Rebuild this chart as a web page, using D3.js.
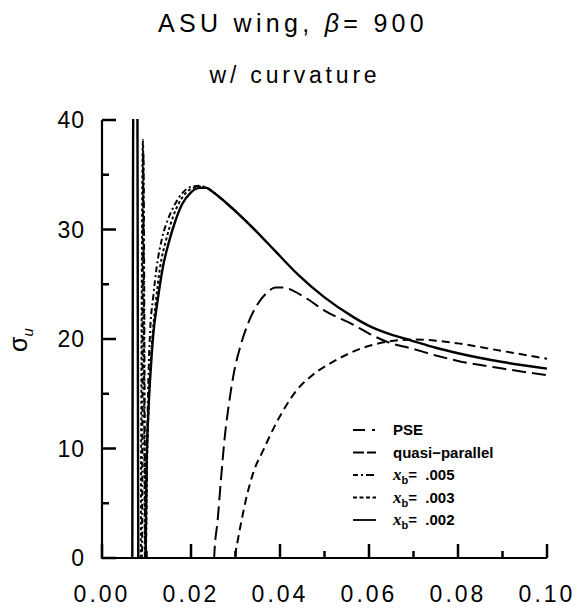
<!DOCTYPE html>
<html>
<head>
<meta charset="utf-8">
<script src="https://cdn.jsdelivr.net/npm/d3@7"></script>
<style>
    body { margin: 0; background: #fff; }
    svg { font-family: "Liberation Sans", Arial, sans-serif; }
</style>
</head>
<body>
<div id="chart"></div>
<script>

// axis ticks
const x_ticks = [0, 0.02, 0.04, 0.06, 0.08, 0.10];
const x_minor = [0.01, 0.03, 0.05, 0.07, 0.09];
const y_ticks = [0, 10, 20, 30, 40];
const y_minor = [5, 15, 25, 35];

// series, [x, sigma_u] (values under 0 / over 40 are clipped)
const pse = [[0.0297,-1],[0.0299,0],[0.0306,1.8],[0.0314,3.5],[0.0325,5.6],[0.0340,7.8],[0.0363,9.9],
    [0.0390,12.2],[0.0415,14.0],[0.0437,15.3],[0.0470,16.6],[0.0527,18.1],[0.0580,19.1],[0.0640,19.75],
    [0.0700,19.95],[0.0750,19.85],[0.0800,19.6],[0.0900,18.9],[0.1000,18.2]];
const quasi_parallel = [[0.0250,-2],[0.0252,0],[0.0260,3.5],[0.0268,7.5],[0.0276,11.1],[0.0285,14.0],
    [0.0295,16.6],[0.0310,19.2],[0.0330,21.6],[0.0350,23.2],[0.0370,24.2],[0.0390,24.7],[0.0410,24.7],
    [0.0430,24.4],[0.0460,23.7],[0.0500,22.6],[0.0565,21.3],[0.0600,20.5],[0.0650,19.6],[0.0690,19.2],
    [0.0750,18.5],[0.0800,18.0],[0.0900,17.3],[0.1000,16.7]];
const xb_005 = [[0.0090,-2],[0.0093,37],[0.0098,-2],[0.0100,6],[0.0103,14],[0.0108,20.6],[0.0115,23.8],
    [0.0123,26.6],[0.0135,29.2],[0.0150,31.1],[0.0160,32.0],[0.0180,33.3],[0.0200,33.9],[0.0220,34.0],
    [0.0235,33.8],[0.0250,33.4],[0.0280,32.4],[0.0310,31.3],[0.0350,29.7]];
const xb_003 = [[0.0087,-2],[0.0092,38.2],[0.0097,-2],[0.0098,-1],[0.0101,8],[0.0106,15],[0.0112,19.5],
    [0.0120,23.0],[0.0130,26.4],[0.0145,29.2],[0.0160,31.2],[0.0180,32.9],[0.0200,33.7],[0.0220,33.9],
    [0.0235,33.8],[0.0250,33.4],[0.0280,32.4],[0.0310,31.3],[0.0350,29.7]];
const xb_002 = [[0.0068,-3],[0.0071,46],[0.0079,46],[0.0082,-3],[0.0096,-3],[0.0098,1],[0.0100,8],
    [0.0105,14],[0.0110,17.5],[0.0115,20.3],[0.0125,23.5],[0.0137,26.6],[0.0150,28.8],[0.0165,30.8],
    [0.0180,32.3],[0.0200,33.4],[0.0220,33.8],[0.0235,33.8],[0.0250,33.4],[0.0280,32.4],[0.0310,31.3],
    [0.0350,29.7],[0.0390,28.0],[0.0440,25.9],[0.0500,23.8],[0.0565,22.0],[0.0600,21.2],[0.0650,20.4],
    [0.0692,19.9],[0.0750,19.2],[0.0800,18.7],[0.0900,17.9],[0.1000,17.3]];

const legend_labels = ['PSE', 'quasi\u2212parallel', '.005', '.003', '.002'];

const series = [
    {data: pse, dash: '8,5', key: '12,7,3,10', label: legend_labels[0]},
    {data: quasi_parallel, dash: '14,6', key: '11,3,9', label: legend_labels[1]},
    {data: xb_005, dash: '6,3,2,3', key: '5,3,2,3,8', label: legend_labels[2], xb: true},
    {data: xb_003, dash: '3,2.5', key: '4,2.5', label: legend_labels[3], xb: true},
    {data: xb_002, dash: null, key: null, label: legend_labels[4], xb: true}
];

const width = 578, height = 610;
const margin = {left: 102, right: 31, top: 120, bottom: 52};
const plot_width = width - margin.left - margin.right;
const plot_height = height - margin.top - margin.bottom;

const svg = d3.select('#chart').append('svg')
    .attr('width', width)
    .attr('height', height);

const x_scale = d3.scaleLinear().domain([0, 0.10]).range([margin.left, margin.left + plot_width]);
const y_scale = d3.scaleLinear().domain([0, 40]).range([margin.top + plot_height, margin.top]);
const x0 = margin.left, y0 = margin.top + plot_height;

// title
svg.append('text')
    .attr('x', 293).attr('y', 32)
    .attr('text-anchor', 'middle')
    .style('font-size', '25px')
    .style('letter-spacing', '4.3px')
    .style('white-space', 'pre')
    .call(t => {
        t.append('tspan').text('ASU wing, ');
        t.append('tspan').style('font-style', 'italic').text('\u03b2');
        t.append('tspan').text('= 900');
    });
svg.append('text')
    .attr('x', 295).attr('y', 83)
    .attr('text-anchor', 'middle')
    .style('font-size', '23px')
    .style('letter-spacing', '3.8px')
    .text('w/ curvature');

const defs = svg.append('defs');
defs.append('clipPath').attr('id', 'plot-clip')
    .append('rect')
        .attr('x', x0 - 1).attr('y', margin.top - 1)
        .attr('width', plot_width + 2)
        .attr('height', plot_height + 1);

// curves first, axes drawn on top
const line = d3.line()
    .x(d => x_scale(d[0]))
    .y(d => y_scale(d[1]))
    .curve(d3.curveMonotoneX);

svg.append('g')
    .attr('clip-path', 'url(#plot-clip)')
    .selectAll('path')
    .data(series)
    .enter()
  .append('path')
    .attr('d', d => line(d.data))
    .attr('fill', 'none')
    .attr('stroke', '#000')
    .attr('stroke-width', d => d.dash ? 2 : 2.4)
    .attr('stroke-dasharray', d => d.dash);

// axis frame
svg.append('path')
    .attr('d', `M${x0},${margin.top}V${y0}H${margin.left + plot_width}`)
    .attr('fill', 'none')
    .attr('stroke', '#000')
    .attr('stroke-width', 2.2);

// inward ticks, as filled bars
const x_tick_len = x_ticks.map(v => [v, 14]).concat(x_minor.map(v => [v, 7]));
const y_tick_len = y_ticks.map(v => [v, 14]).concat(y_minor.map(v => [v, 7]));

const ticks_grp = svg.append('g').attr('fill', '#000');
ticks_grp.selectAll('rect.xtick')
    .data(x_tick_len)
    .enter()
  .append('rect')
    .attr('class', 'xtick')
    .attr('x', d => x_scale(d[0]) - 1.25)
    .attr('y', d => y0 - d[1])
    .attr('width', 2.5)
    .attr('height', d => d[1]);
ticks_grp.selectAll('rect.ytick')
    .data(y_tick_len)
    .enter()
  .append('rect')
    .attr('class', 'ytick')
    .attr('x', x0)
    .attr('y', d => y_scale(d[0]) - 1.25)
    .attr('width', d => d[1])
    .attr('height', 2.5);

// tick labels
svg.selectAll('text.xlab')
    .data(x_ticks)
    .enter()
  .append('text')
    .attr('class', 'xlab')
    .attr('x', d => x_scale(d))
    .attr('y', y0 + 44)
    .attr('text-anchor', 'middle')
    .style('font-size', '23px')
    .style('letter-spacing', '3px')
    .text(d3.format('.2f'));
svg.selectAll('text.ylab')
    .data(y_ticks)
    .enter()
  .append('text')
    .attr('class', 'ylab')
    .attr('x', x0 - 17)
    .attr('y', d => y_scale(d) + 8)
    .attr('text-anchor', 'end')
    .style('font-size', '23px')
    .style('letter-spacing', '1px')
    .text(d => d);

// y label
svg.append('text')
    .attr('transform', 'translate(27,340) rotate(-90)')
    .attr('text-anchor', 'middle')
    .style('font-size', '25px')
    .call(t => {
        t.append('tspan').text('\u03c3');
        t.append('tspan').attr('dy', 6).style('font-size', '15px').style('font-style', 'italic').text('u');
    });

// legend
const legend = svg.append('g')
    .attr('transform', 'translate(353,430)');
const rows = legend.selectAll('g')
    .data(series)
    .enter()
  .append('g')
    .attr('transform', (d, i) => 'translate(0,' + (i * 22.5) + ')');
rows.append('path')
    .attr('d', 'M0,0H23')
    .attr('stroke', '#000')
    .attr('stroke-width', 1.8)
    .attr('stroke-dasharray', d => d.key);
rows.append('text')
    .attr('x', 40).attr('y', 5)
    .style('font-size', '15px')
    .style('font-weight', 'bold')
    .style('white-space', 'pre')
    .each(function(d){
        const t = d3.select(this);
        if (d.xb) {
            t.append('tspan').style('font-family', '"Liberation Serif", serif')
                .style('font-style', 'italic').style('font-size', '17px').text('x');
            t.append('tspan').attr('dy', 4).style('font-size', '11px').text('b');
            t.append('tspan').attr('dy', -4).text('=  ' + d.label);
        } else {
            t.text(d.label);
        }
    });

</script>
</body>
</html>
